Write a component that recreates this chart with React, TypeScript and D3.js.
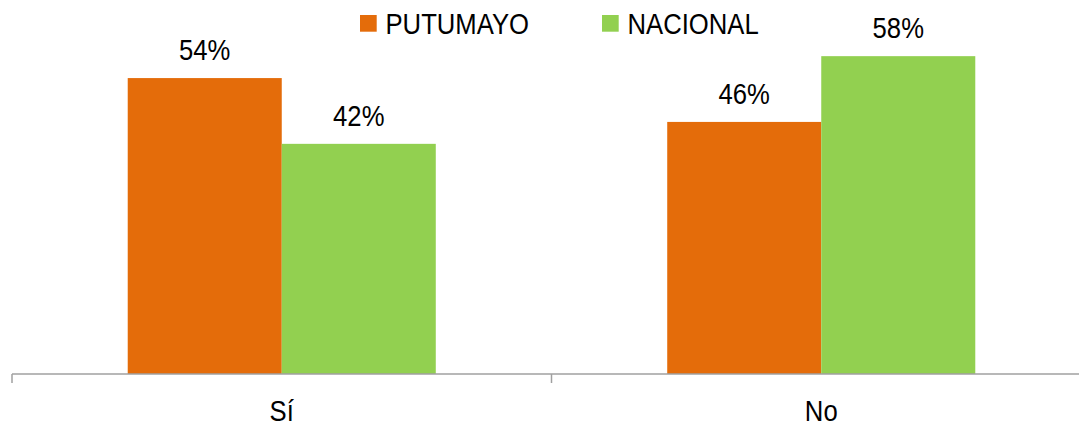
import * as d3 from "d3";

const categories = ["Sí", "No"];
const seriesNames = ["PUTUMAYO", "NACIONAL"];
const putumayo = [0.54, 0.46];
const nacional = [0.42, 0.58];
const colors = ["#E46C0A", "#92D050"];

const width = 1079;
const height = 429;
const baseline = 374;
const font = "'Liberation Sans', Arial, sans-serif";

// narrow-looking text: the reference uses a condensed face
const Label = ({ x, y, anchor = "start", children }: any) => (
  <text
    transform={`translate(${x},${y}) scale(0.885,1)`}
    textAnchor={anchor}
    fontSize={29}
    fill="#000"
  >
    {children}
  </text>
);

const App = () => {
  const x0 = d3.scaleBand<string>().domain(categories).range([12, 1091]).padding(0);
  const bw = x0.bandwidth();
  const groupW = bw * 0.571;
  const x1 = d3
    .scaleBand<string>()
    .domain(seriesNames)
    .range([(bw - groupW) / 2, (bw + groupW) / 2])
    .padding(0);
  const y = d3.scaleLinear().domain([0, 0.6]).range([baseline, baseline - 328.8]);
  const fmt = d3.format(".0%");
  const series = [putumayo, nacional];

  const ticks = [...categories.map((c) => x0(c) as number), 1091];

  return (
    <svg
      width={width}
      height={height}
      style={{ position: "absolute", left: 0, top: 0, background: "#fff" }}
      fontFamily={font}
    >
      {categories.map((c, i) => (
        <g key={c} transform={`translate(${x0(c)},0)`}>
          {seriesNames.map((s, j) => {
            const v = series[j][i];
            const bx = x1(s) as number;
            return (
              <g key={s}>
                <rect
                  x={bx}
                  y={y(v)}
                  width={x1.bandwidth()}
                  height={baseline - y(v)}
                  fill={colors[j]}
                />
                <Label x={bx + x1.bandwidth() / 2} y={y(v) - 18} anchor="middle">
                  {fmt(v)}
                </Label>
              </g>
            );
          })}
          <Label x={bw / 2} y={421} anchor="middle">
            {c}
          </Label>
        </g>
      ))}
      <line x1={12} x2={1091} y1={baseline} y2={baseline} stroke="#A0A0A0" strokeWidth={1.5} />
      {ticks.map((t, i) => (
        <line key={i} x1={t} x2={t} y1={baseline} y2={383} stroke="#A0A0A0" strokeWidth={1.5} />
      ))}
      {seriesNames.map((s, j) => {
        const lx = j === 0 ? 360 : 602;
        return (
          <g key={s} transform={`translate(${lx},0)`}>
            <rect x={0} y={15} width={16.7} height={16.7} fill={colors[j]} />
            <Label x={25.5} y={34}>
              {s}
            </Label>
          </g>
        );
      })}
    </svg>
  );
};

export default App;
